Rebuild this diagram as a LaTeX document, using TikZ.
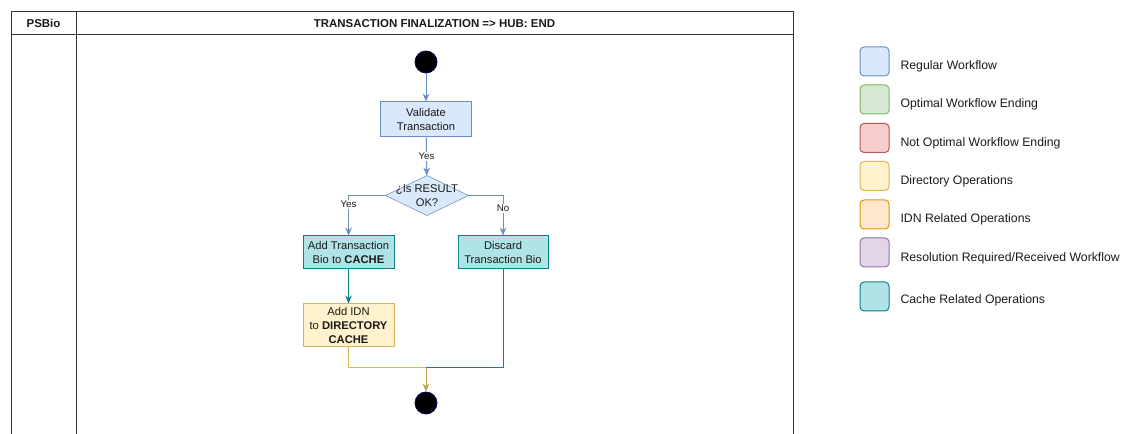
\documentclass[tikz,border=0pt]{standalone}
\usepackage{fontspec}
\setmainfont{Liberation Sans}
\usetikzlibrary{arrows.meta,backgrounds}

\definecolor{regFill}{HTML}{DAE8FC}
\definecolor{regDraw}{HTML}{6C8EBF}
\definecolor{optFill}{HTML}{D5E8D4}
\definecolor{optDraw}{HTML}{82B366}
\definecolor{notFill}{HTML}{F8CECC}
\definecolor{notDraw}{HTML}{B85450}
\definecolor{dirFill}{HTML}{FFF2CC}
\definecolor{dirDraw}{HTML}{D6B656}
\definecolor{idnFill}{HTML}{FFE6CC}
\definecolor{idnDraw}{HTML}{D79B00}
\definecolor{resFill}{HTML}{E1D5E7}
\definecolor{resDraw}{HTML}{9673A6}
\definecolor{cacFill}{HTML}{B0E3E6}
\definecolor{cacDraw}{HTML}{0E8088}
\definecolor{mergeCol}{HTML}{B8A850}
\definecolor{inkCol}{HTML}{1A1A1A}

\tikzset{
  tableline/.style={draw=black!80, line width=0.75pt},
  headtxt/.style={font=\fontsize{8.6}{9}\selectfont\bfseries, text=inkCol, inner sep=0pt},
  flowtxt/.style={font=\fontsize{8.4}{10.2}\selectfont, text=inkCol, align=center, inner sep=0pt},
  lbl/.style={font=\fontsize{7.3}{8}\selectfont, text=inkCol, fill=white, inner sep=1pt},
  flowbox/.style={flowtxt, draw, line width=0.75pt, minimum width=68.25pt, minimum height=24.75pt},
  regbox/.style={flowbox, fill=regFill, draw=regDraw},
  cachebox/.style={flowbox, fill=cacFill, draw=cacDraw},
  dirbox/.style={flowbox, fill=dirFill, draw=dirDraw},
  startend/.style={circle, fill=black, draw=blue!35!black, line width=0.6pt, minimum size=16.5pt, inner sep=0pt},
  tip/.style={-{Stealth[length=6pt,width=5pt]}},
  legsq/.style={draw, rounded corners=3pt, minimum size=21.75pt, inner sep=0pt, line width=0.75pt},
  legtxt/.style={font=\fontsize{9.2}{11}\selectfont, text=inkCol, anchor=west, inner sep=0pt}
}

\begin{document}
\begin{tikzpicture}[x=0.75pt, y=-0.75pt, line width=0.75pt]
		%%%%% START %%%%%
		\useasboundingbox (0,0) rectangle (1124,434);
		
		% swimlane table
		\draw[tableline] (11,434) -- (11,12) -- (793,12) -- (793,434);
		\draw[tableline] (11,35) -- (793,35);
		\draw[tableline] (76,12) -- (76,434);
		\node[headtxt] (lane) at (43.5,23.5) {PSBio};
		\node[headtxt] (title) at (434.5,23.5) {TRANSACTION FINALIZATION => HUB: END};
		
		% flow nodes
		\node[startend] (start) at (426,62) {};
		\node[regbox, minimum height=26.25pt] (validate) at (426,119.5) {Validate\\Transaction};
		\node[flowtxt, minimum width=61.5pt, minimum height=29.25pt] (result) at (427,195.5) {¿Is RESULT\\OK?};
		\begin{scope}[on background layer]
			\draw[fill=regFill, draw=regDraw] (result.north) -- (result.east) -- (result.south) -- (result.west) -- cycle;
		\end{scope}
		\node[cachebox] (addbio) at (348.5,252.5) {Add Transaction\\Bio to \textbf{CACHE}};
		\node[cachebox, minimum width=67.5pt] (discard) at (503,252.5) {Discard\\Transaction Bio};
		\node[dirbox, minimum height=32.25pt] (addidn) at (348.5,325.5) {Add IDN\\to \textbf{DIRECTORY}\\\textbf{CACHE}};
		\coordinate (merge) at (426,368);
		\node[startend] (end) at (426,403) {};
		
		% connectors
		\draw[tip, regDraw] (start) -- (validate);
		\draw[tip, regDraw] (validate) -- node[lbl] {Yes} (result);
		\draw[tip, regDraw] (result.west) -| node[lbl, pos=0.61] {Yes} (addbio.north);
		\draw[tip, regDraw] (result.east) -| node[lbl, pos=0.66] {No} (discard.north);
		\draw[tip, cacDraw] (addbio) -- (addidn);
		\draw[dirDraw] (addidn.south) |- (merge);
		\draw[cacDraw] (discard.south) |- (merge);
		\draw[tip, mergeCol] (merge) -- (end);
		
		% legend
		\node[legsq, fill=regFill, draw=regDraw] (sqreg) at (874.5,61.5) {};
		\node[legtxt] (txtreg) at (900,66) {Regular Workflow};
		\node[legsq, fill=optFill, draw=optDraw] (sqopt) at (874.5,99.5) {};
		\node[legtxt] (txtopt) at (900,104) {Optimal Workflow Ending};
		\node[legsq, fill=notFill, draw=notDraw] (sqnot) at (874.5,138) {};
		\node[legtxt] (txtnot) at (900,143) {Not Optimal Workflow Ending};
		\node[legsq, fill=dirFill, draw=dirDraw] (sqdir) at (874.5,176) {};
		\node[legtxt] (txtdir) at (900,181) {Directory Operations};
		\node[legsq, fill=idnFill, draw=idnDraw] (sqidn) at (874.5,214.5) {};
		\node[legtxt] (txtidn) at (900,219) {IDN Related Operations};
		\node[legsq, fill=resFill, draw=resDraw] (sqres) at (874.5,252.5) {};
		\node[legtxt] (txtres) at (900,258) {Resolution Required/Received Workflow};
		\node[legsq, fill=cacFill, draw=cacDraw] (sqcac) at (874.5,296.5) {};
		\node[legtxt] (txtcac) at (900,300) {Cache Related Operations};
		
		%%%%% END %%%%%
	\end{tikzpicture}
\end{document}
